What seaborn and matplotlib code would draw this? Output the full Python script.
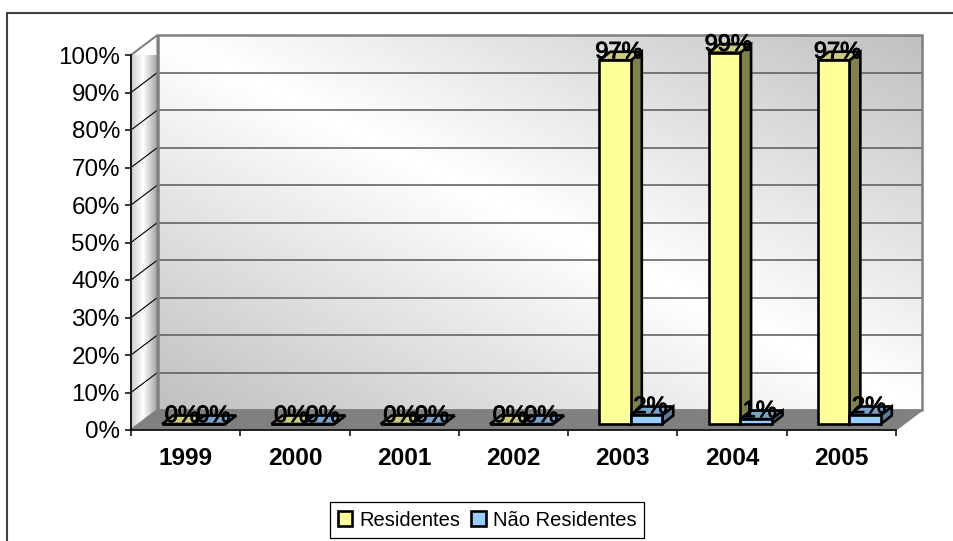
import numpy as np
import pandas as pd
import matplotlib
matplotlib.use("Agg")
import matplotlib.pyplot as plt
import matplotlib.patheffects as pe
from matplotlib.lines import Line2D
from matplotlib.patches import Polygon
from matplotlib.transforms import Affine2D
import seaborn as sns

years = ["1999", "2000", "2001", "2002", "2003", "2004", "2005"]
residentes = [0, 0, 0, 0, 97, 99, 97]
nao_residentes = [0, 0, 0, 0, 2.4, 1.3, 2.4]
series_names = ["Residentes", "Não Residentes"]
y_ticks = [0, 10, 20, 30, 40, 50, 60, 70, 80, 90, 100]

# front / top / side shades of each series
shades = {
    0: ("#ffff99", "#cccc7a", "#80804d"),
    1: ("#99ccff", "#7aa3cc", "#5c7a99"),
}

df = pd.DataFrame({
    "ano": years * 2,
    "valor": residentes + nao_residentes,
    "serie": [series_names[0]] * 7 + [series_names[1]] * 7,
})

sns.set_theme(style="white")
plt.rcParams["font.family"] = ["Liberation Sans", "DejaVu Sans"]

W, H = 954, 541
fig = plt.figure(figsize=(W / 100, H / 100), dpi=100)
ax = fig.add_axes([131 / W, (H - 430) / H, 765 / W, 375 / H])
ax.patch.set_visible(False)

sns.barplot(data=df, x="ano", y="valor", hue="serie", ax=ax, width=0.576, saturation=1,
            palette=[shades[0][0], shades[1][0]], edgecolor="black", linewidth=1.9, zorder=6)
ax.set_xlim(-0.5, 6.5)
ax.set_ylim(0, 100)

# pixel offsets for the fake 3D look
px_x = 7 / 765
px_y = 100 / 375
back = ax.transData + Affine2D().translate(26.5, 20)
front = Affine2D().translate(8, 6)
bar_front = ax.transData + front

# back wall, light band along the diagonal
u, v = np.meshgrid(np.linspace(0, 1, 200), np.linspace(0, 1, 200))
wall_img = 1 - 0.25 * np.abs(u - v)
wall = ax.imshow(wall_img, cmap="gray", vmin=0, vmax=1, extent=(-0.5, 6.5, 0, 100),
                 aspect="auto", interpolation="bilinear", zorder=0, clip_on=False)
wall.set_transform(back)
ax.add_patch(Polygon([(-0.5, 0), (6.5, 0), (6.5, 100), (-0.5, 100)], closed=True, fill=False,
                     edgecolor="#808080", linewidth=1.8, transform=back, clip_on=False, zorder=2))

# left side wall
wall_dx = 26.5 * px_x
wall_dy = 20 * px_y
side_pts = [(-0.5, 0), (-0.5 + wall_dx, wall_dy), (-0.5 + wall_dx, 100 + wall_dy), (-0.5, 100)]
side_poly = Polygon(side_pts, closed=True, facecolor="none", edgecolor="#808080", linewidth=1.5,
                    transform=ax.transData, clip_on=False, zorder=2)
ax.add_patch(side_poly)
s = np.linspace(0, 1, 100)
side_img = np.interp(s, [0, 0.45, 1], [0.8, 1, 0.62]).reshape(1, -1)
side = ax.imshow(side_img, cmap="gray", vmin=0, vmax=1,
                 extent=(-0.5, -0.5 + wall_dx, 0, 100 + wall_dy), aspect="auto",
                 interpolation="bilinear", zorder=0)
side.set_clip_path(side_poly)
ax.set_xlim(-0.5, 6.5)
ax.set_ylim(0, 100)

# floor
ax.add_patch(Polygon([(-0.5, 0), (6.5, 0), (6.5 + wall_dx, wall_dy), (-0.5 + wall_dx, wall_dy)],
                     closed=True, facecolor="#808080", edgecolor="#808080", linewidth=1,
                     clip_on=False, zorder=1))

# gridlines on back wall and side wall
for t in y_ticks[1:-1]:
    ax.plot([-0.5, 6.5], [t, t], color="#595959", linewidth=1.1, transform=back, clip_on=False, zorder=1)
for t in y_ticks[1:-1]:
    ax.plot([-0.5, -0.5 + wall_dx], [t, t + wall_dy], color="black", linewidth=0.8, clip_on=False, zorder=1)

# bars: shift front faces and add top + side faces
depth_x = 11 * px_x
depth_y = 8.5 * px_y
for i, container in enumerate(ax.containers):
    for j, bar in enumerate(container):
        bar.set_transform(bar_front)
        bar.set_clip_on(False)
        bar.set_zorder(5 + 2 * i + 0.5)
        x0, w, h = bar.get_x(), bar.get_width(), bar.get_height()
        x1 = x0 + w
        top = [(x0, h), (x1, h), (x1 + depth_x, h + depth_y), (x0 + depth_x, h + depth_y)]
        right = [(x1, 0), (x1 + depth_x, depth_y), (x1 + depth_x, h + depth_y), (x1, h)]
        for pts, col in ((right, shades[i][2]), (top, shades[i][1])):
            ax.add_patch(Polygon(pts, closed=True, facecolor=col, edgecolor="black", linewidth=1.9,
                                 transform=bar_front, clip_on=False, zorder=5 + 2 * i))
        lab = ax.annotate(f"{h:.0f}%", xy=(x0 + w / 2, h), xycoords=bar_front, xytext=(4, 2),
                          textcoords="offset pixels", ha="center", va="baseline", fontsize=17,
                          color="black", zorder=20, annotation_clip=False)
        lab.set_path_effects([pe.withStroke(linewidth=0.7, foreground="black")])

# axes
sns.despine(ax=ax)
for side_name in ("left", "bottom"):
    ax.spines[side_name].set_color("black")
    ax.spines[side_name].set_linewidth(1.1)
    ax.spines[side_name].set_zorder(3)
ax.set_xlabel("")
ax.set_ylabel("")
ax.set_yticks(y_ticks)
ax.set_yticklabels([f"{t}%" for t in y_ticks], fontsize=17.4)
ax.set_xticks(range(len(years)))
ax.set_xticklabels(years, fontsize=17.6, fontweight="bold")
ax.set_xticks(np.arange(-0.5, 7), minor=True)
ax.tick_params(axis="y", left=True, length=4.5, width=1.1, color="black", pad=3.5, labelcolor="black")
ax.tick_params(axis="x", which="major", bottom=False, length=0, pad=12.5, labelcolor="black")
ax.tick_params(axis="x", which="minor", bottom=True, length=4.5, width=1.1, color="black")

# legend
handles, labels = ax.get_legend_handles_labels()
ax.legend(handles, labels, loc="center", bbox_to_anchor=(487 / W, (H - 520) / H),
          bbox_transform=fig.transFigure, ncol=2, fontsize=14.5, frameon=True, fancybox=False,
          edgecolor="black", framealpha=1, handlelength=0.72, handleheight=0.72,
          handletextpad=0.35, columnspacing=0.55, borderpad=0.4, borderaxespad=0,
          labelcolor="black")
ax.get_legend().get_frame().set_linewidth(0.9)

# chart border, open to the right and the bottom of the picture
border = "#404040"
fig.add_artist(Line2D([7 / W, 7 / W], [0, (H - 13) / H], color=border, linewidth=1.5))
fig.add_artist(Line2D([7 / W, 1], [(H - 13) / H, (H - 13) / H], color=border, linewidth=1.5))

fig.savefig("out.png", dpi=100, facecolor="white")
